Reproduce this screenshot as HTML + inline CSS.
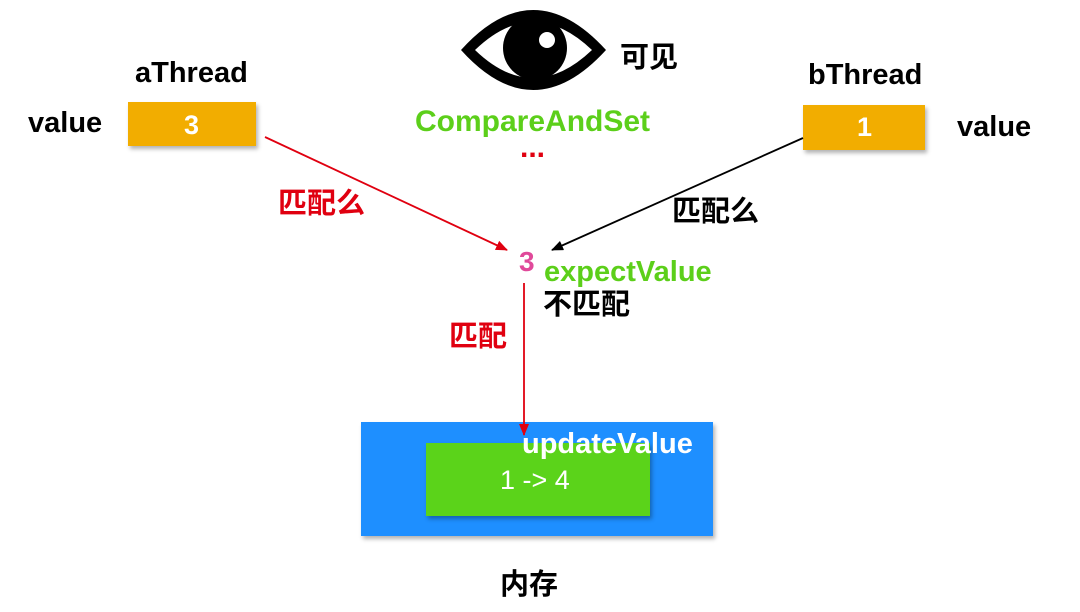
<!DOCTYPE html>
<html><head><meta charset="utf-8"><style>
body{margin:0;width:1080px;height:612px;background:#fff;position:relative;overflow:hidden;font-family:"Liberation Sans","Noto Sans CJK SC",sans-serif;font-weight:bold}
.t{position:absolute;white-space:nowrap;line-height:1}
.box{position:absolute;box-shadow:2px 3px 4px rgba(0,0,0,.3)}
</style></head><body>
<div class="t" style="left:135px;top:59px;font-size:29px">aThread</div>
<div class="t" style="left:28px;top:109px;font-size:29px">value</div>
<div class="box" style="left:128px;top:102px;width:128px;height:44px;background:#f2ad00"></div>
<div class="t" style="left:184px;top:112px;font-size:27px;color:#fff">3</div>

<div class="t" style="left:808px;top:61px;font-size:29px">bThread</div>
<div class="t" style="left:957px;top:113px;font-size:29px">value</div>
<div class="box" style="left:803px;top:105px;width:122px;height:45px;background:#f2ad00"></div>
<div class="t" style="left:857px;top:114px;font-size:27px;color:#fff">1</div>

<div class="t" style="left:415px;top:107px;font-size:30px;color:#5ccf1a">CompareAndSet</div>
<div class="t" style="left:520px;top:133px;font-size:30px;color:#e00010">...</div>
<div class="t" style="left:620px;top:44px;font-size:29px">可见</div>

<div class="t" style="left:278px;top:190px;font-size:29px;color:#e00010">匹配么</div>
<div class="t" style="left:672px;top:198px;font-size:29px">匹配么</div>
<div class="t" style="left:519px;top:248px;font-size:28px;color:#e0499a">3</div>
<div class="t" style="left:544px;top:258px;font-size:29px;color:#5ccf1a">expectValue</div>
<div class="t" style="left:543px;top:291px;font-size:29px">不匹配</div>
<div class="t" style="left:449px;top:323px;font-size:29px;color:#e00010">匹配</div>

<div class="box" style="left:361px;top:422px;width:352px;height:114px;background:#1e8fff"></div>
<div class="box" style="left:426px;top:443px;width:224px;height:73px;background:#5bd31a"></div>
<div class="t" style="left:500px;top:467px;font-size:27px;color:#fff;font-weight:normal">1 -&gt; 4</div>
<div class="t" style="left:522px;top:430px;font-size:29px;color:#fff">updateValue</div>
<div class="t" style="left:500px;top:571px;font-size:29px">内存</div>

<svg width="1080" height="612" style="position:absolute;left:0;top:0">
<defs>
<marker id="r" markerWidth="12" markerHeight="10" refX="11" refY="5" orient="auto" markerUnits="userSpaceOnUse"><path d="M0,0 L12,5 L0,10z" fill="#e00010"/></marker>
<marker id="k" markerWidth="12" markerHeight="10" refX="11" refY="5" orient="auto" markerUnits="userSpaceOnUse"><path d="M0,0 L12,5 L0,10z" fill="#000"/></marker>
</defs>
<line x1="265" y1="137" x2="507" y2="250" stroke="#e00010" stroke-width="1.8" marker-end="url(#r)"/>
<line x1="803" y1="138" x2="552" y2="250" stroke="#000" stroke-width="1.8" marker-end="url(#k)"/>
<line x1="524" y1="283" x2="524" y2="435" stroke="#e00010" stroke-width="1.8" marker-end="url(#r)"/>
<path d="M461,50 Q533,-30 606,50 Q533,130 461,50Z" fill="#000"/>
<path d="M475,50 Q533,-6 592,50 Q533,106 475,50Z" fill="#fff"/>
<circle cx="535" cy="48" r="32" fill="#000"/>
<circle cx="547" cy="40" r="8" fill="#fff"/>
</svg>
</body></html>
